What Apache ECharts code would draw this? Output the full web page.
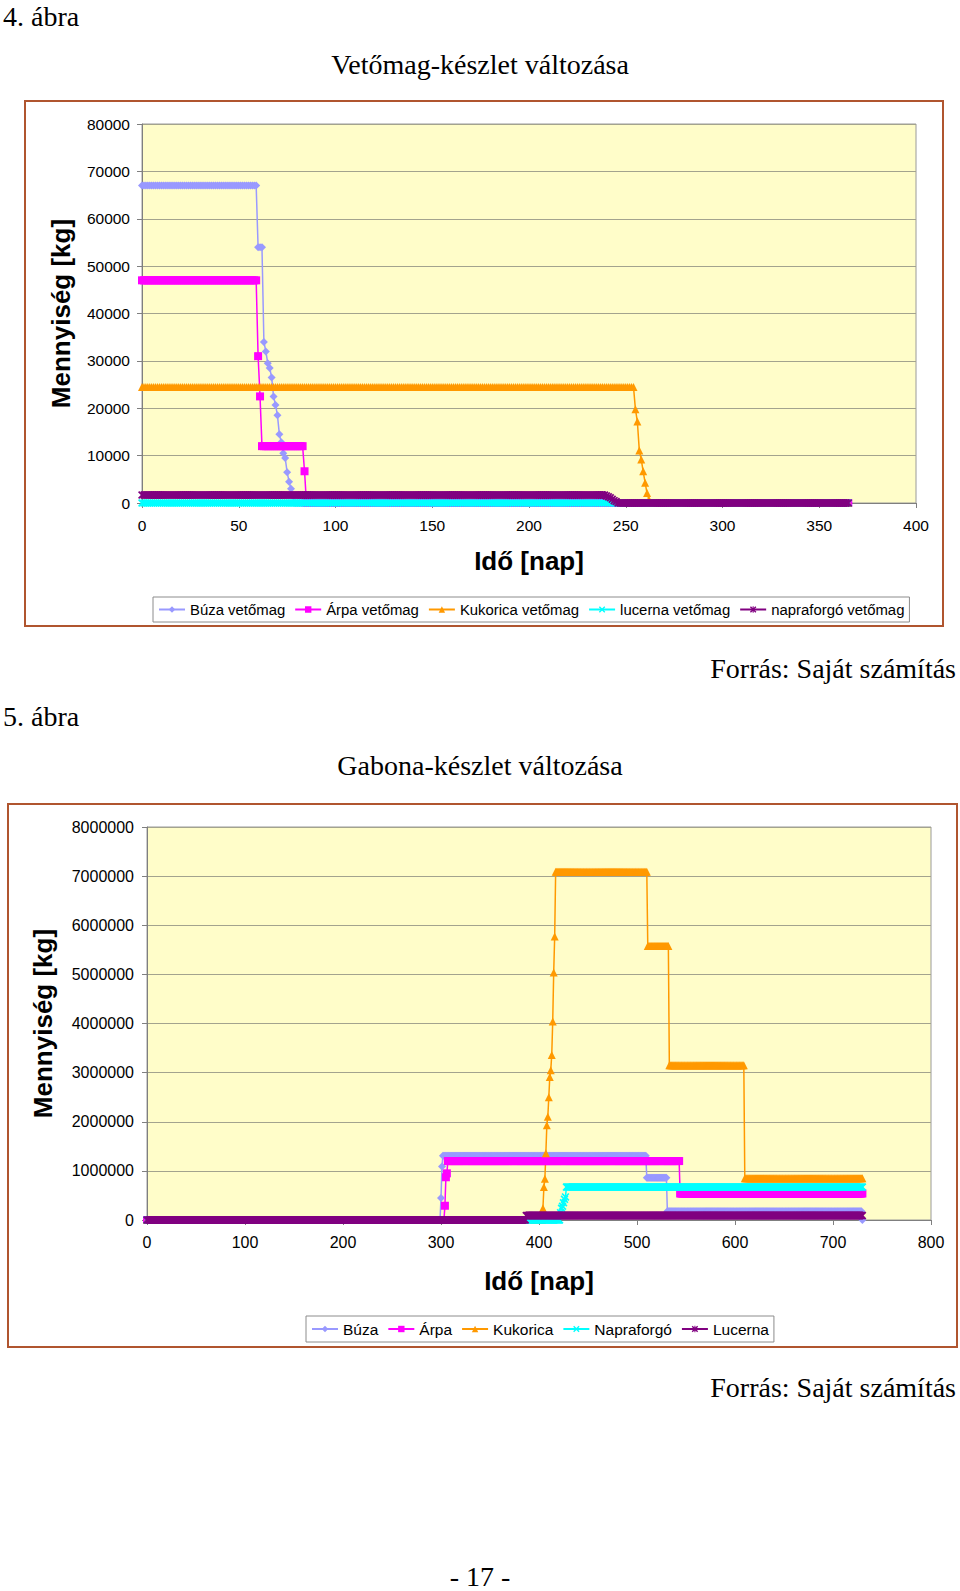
<!DOCTYPE html>
<html>
<head>
<meta charset="utf-8">
<script src="https://cdn.jsdelivr.net/npm/echarts@6/dist/echarts.min.js"></script>
<style>
html,body{margin:0;padding:0;background:#fff;}
#c{width:960px;height:1591px;}
</style>
</head>
<body>
<div id="c"></div>
<script>
// ---------- DATA (runs: [fromDay, toDay, value]) ----------
// Chart 4: Vetőmag-készlet változása
const names1 = ['Búza vetőmag', 'Árpa vetőmag', 'Kukorica vetőmag', 'lucerna vetőmag', 'napraforgó vetőmag'];
const buzaVetomag = [[0,59,67000],[60,62,54000],[63,63,34000],[64,64,32000],[65,65,29500],[66,66,28500],[67,67,26500],[68,68,22500],[69,69,20700],[70,70,18500],[71,71,14500],[72,72,12800],[73,73,10500],[74,74,9500],[75,75,6500],[76,76,4500],[77,77,3000],[78,78,1500],[79,365,0]];
const arpaVetomag = [[0,59,47000],[60,60,31000],[61,61,22500],[62,83,12000],[84,84,6700],[85,365,0]];
const kukoricaVetomag = [[0,254,24500],[255,255,19800],[256,256,17200],[257,257,11100],[258,258,9200],[259,259,6700],[260,260,4300],[261,261,2100],[262,262,700],[263,365,0]];
const lucernaVetomag = [[0,365,0]];
const napraforgoVetomag = [[0,239,1700],[240,240,1500],[241,241,1300],[242,242,1100],[243,243,800],[244,244,500],[245,245,300],[246,365,0]];
const xTicks1 = [0, 400, 50];
const yTicks1 = [0, 80000, 10000];

// Chart 5: Gabona-készlet változása
const names2 = ['Búza', 'Árpa', 'Kukorica', 'Napraforgó', 'Lucerna'];
const buza = [[0,299,0],[300,300,450000],[301,301,1090000],[302,509,1310000],[510,530,860000],[531,729,180000],[730,730,0]];
const arpa = [[0,303,0],[304,304,290000],[305,305,870000],[306,306,950000],[307,543,1200000],[544,730,540000]];
const kukorica = [[0,403,0],[404,404,240000],[405,405,670000],[406,406,840000],[407,407,1360000],[408,408,1930000],[409,409,2100000],[410,410,2500000],[411,411,2910000],[412,412,3050000],[413,413,3360000],[414,414,4040000],[415,415,5040000],[416,416,5770000],[417,510,7090000],[511,532,5580000],[533,609,3150000],[610,730,850000]];
const napraforgo = [[0,421,0],[422,422,150000],[423,423,240000],[424,424,280000],[425,425,350000],[426,426,420000],[427,427,470000],[428,730,670000]];
const lucerna = [[0,386,0],[387,730,90000]];
const xTicks2 = [0, 800, 100];
const yTicks2 = [0, 8000000, 1000000];

// ---------- BUILD ----------
function expand(runs){ const out=[]; runs.forEach(r=>{ for(let d=r[0]; d<=r[1]; d++) out.push([d, r[2]]); }); return out; }

const colors = ['#9999FF', '#FF00FF', '#FF9900', '#00FFFF', '#800080'];
const X_SYM = 'path://M0,1.5L1.5,0L5,3.5L8.5,0L10,1.5L6.5,5L10,8.5L8.5,10L5,6.5L1.5,10L0,8.5L3.5,5Z';
const STAR_SYM = 'path://M0,1.5L1.5,0L5,3.5L8.5,0L10,1.5L6.5,5L10,8.5L8.5,10L5,6.5L1.5,10L0,8.5L3.5,5Z M4.2,0L5.8,0L5.8,10L4.2,10Z';
const symbols = ['diamond', 'rect', 'triangle', X_SYM, STAR_SYM];
const data1 = [buzaVetomag, arpaVetomag, kukoricaVetomag, lucernaVetomag, napraforgoVetomag];
const data2 = [buza, arpa, kukorica, napraforgo, lucerna];

function mkSeries(name, runs, color, sym, gi, size){
  return {
    name: name, type: 'line', xAxisIndex: gi, yAxisIndex: gi,
    data: expand(runs), symbol: sym, symbolSize: size, showAllSymbol: true,
    lineStyle: {width: 1.5, color: color}, itemStyle: {color: color},
    silent: true, animation: false, emphasis: {disabled: true}
  };
}
const series = [];
names1.forEach((n,i)=>series.push(mkSeries(n, data1[i], colors[i], symbols[i], 0, 8)));
names2.forEach((n,i)=>series.push(mkSeries(n, data2[i], colors[i], symbols[i], 1, 8)));

const FONT = '"Liberation Sans", Arial, sans-serif';
const SERIF = '"Liberation Serif", "Times New Roman", serif';
const gridLine = {show: true, lineStyle: {color: '#a3a38e', width: 1}};
const axLine = {show: true, onZero: false, lineStyle: {color: '#7f7f7f', width: 1}};
const axTick = {show: true, length: 5, lineStyle: {color: '#7f7f7f'}};
const bigName = {fontSize: 26, fontWeight: 'bold', color: '#000', fontFamily: FONT};

function txt(t, x, y, align){
  return {type: 'text', x: x, y: y, silent: true,
    style: {text: t, font: '28px ' + SERIF, fill: '#000', textAlign: align, align: align, textVerticalAlign: 'middle', verticalAlign: 'middle'}};
}

const option = {
  animation: false,
  backgroundColor: '#ffffff',
  textStyle: {fontFamily: FONT},
  grid: [
    {left: 142, top: 124, width: 774, height: 379, show: true, backgroundColor: '#FFFDC9', borderColor: '#9a9a9a', borderWidth: 1},
    {left: 147, top: 827, width: 784, height: 393, show: true, backgroundColor: '#FFFDC9', borderColor: '#9a9a9a', borderWidth: 1}
  ],
  xAxis: [
    {gridIndex: 0, type: 'value', min: xTicks1[0], max: xTicks1[1], interval: xTicks1[2],
     axisLine: axLine, axisTick: axTick, splitLine: {show: false},
     axisLabel: {color: '#000', fontSize: 15.5, margin: 14},
     name: 'Idő [nap]', nameLocation: 'middle', nameGap: 45, nameTextStyle: bigName},
    {gridIndex: 1, type: 'value', min: xTicks2[0], max: xTicks2[1], interval: xTicks2[2],
     axisLine: axLine, axisTick: axTick, splitLine: {show: false},
     axisLabel: {color: '#000', fontSize: 16, margin: 14},
     name: 'Idő [nap]', nameLocation: 'middle', nameGap: 48, nameTextStyle: bigName}
  ],
  yAxis: [
    {gridIndex: 0, type: 'value', min: yTicks1[0], max: yTicks1[1], interval: yTicks1[2],
     axisLine: axLine, axisTick: axTick, splitLine: gridLine,
     axisLabel: {color: '#000', fontSize: 15.5, margin: 12, formatter: v => String(v)},
     name: 'Mennyiség [kg]', nameLocation: 'middle', nameGap: 68, nameRotate: 90, nameTextStyle: bigName},
    {gridIndex: 1, type: 'value', min: yTicks2[0], max: yTicks2[1], interval: yTicks2[2],
     axisLine: axLine, axisTick: axTick, splitLine: gridLine,
     axisLabel: {color: '#000', fontSize: 16, margin: 13, formatter: v => String(v)},
     name: 'Mennyiség [kg]', nameLocation: 'middle', nameGap: 91, nameRotate: 90, nameTextStyle: bigName}
  ],
  legend: [
    {data: names1, left: 153, top: 597, itemWidth: 26, itemHeight: 8, itemGap: 9, padding: [5, 5],
     borderColor: '#8c8c8c', borderWidth: 1, selectedMode: false, textStyle: {fontSize: 14.9, color: '#000'}},
    {data: names2, left: 306, top: 1316, itemWidth: 26, itemHeight: 8, itemGap: 9, padding: [5, 5],
     borderColor: '#8c8c8c', borderWidth: 1, selectedMode: false, textStyle: {fontSize: 15.5, color: '#000'}}
  ],
  graphic: [
    {type: 'rect', silent: true, z: -10, shape: {x: 25, y: 101, width: 918, height: 525}, style: {fill: 'none', stroke: '#B0552F', lineWidth: 2}},
    {type: 'rect', silent: true, z: -10, shape: {x: 8, y: 804, width: 949, height: 543}, style: {fill: 'none', stroke: '#B0552F', lineWidth: 2}},
    txt('4. ábra', 3, 16, 'left'),
    txt('Vetőmag-készlet változása', 480, 64, 'center'),
    txt('Forrás: Saját számítás', 956, 668, 'right'),
    txt('5. ábra', 3, 716, 'left'),
    txt('Gabona-készlet változása', 480, 765, 'center'),
    txt('Forrás: Saját számítás', 956, 1387, 'right'),
    txt('- 17 -', 480, 1576, 'center')
  ],
  series: series
};

const chart = echarts.init(document.getElementById('c'), null, {renderer: 'svg', width: 960, height: 1591});
chart.setOption(option);
</script>
</body>
</html>
